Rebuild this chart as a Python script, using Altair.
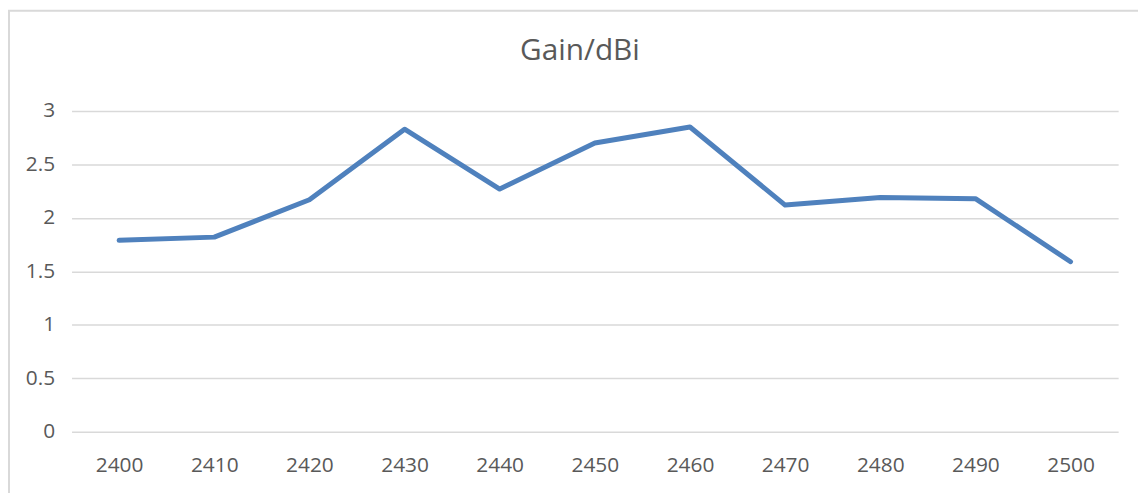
import altair as alt
import pandas as pd

freqs = ["2400", "2410", "2420", "2430", "2440", "2450", "2460", "2470", "2480", "2490", "2500"]
gain = [1.79, 1.82, 2.17, 2.83, 2.27, 2.70, 2.85, 2.12, 2.19, 2.18, 1.59]
y_ticks = [0, 0.5, 1, 1.5, 2, 2.5, 3]

df = pd.DataFrame({"freq": freqs, "gain": gain})

FONT = "Open Sans"
TXT = "#595959"
GRID = "#d9d9d9"

W, H = 1054, 323

frame = alt.Chart(pd.DataFrame({"a": [0]})).mark_rect(
    fill=None, stroke=GRID, strokeWidth=2
).encode(
    x=alt.value(-63), y=alt.value(-101),
    x2=alt.value(W + 120), y2=alt.value(H + 120),
)

line = alt.Chart(df).mark_line(
    color="#4f81bd", strokeWidth=5, strokeCap="round", strokeJoin="round"
).encode(
    x=alt.X("freq:O", sort=freqs,
            scale=alt.Scale(type="point", padding=0.5),
            axis=alt.Axis(title=None, labelAngle=0, ticks=False, domain=False,
                          grid=False, labelPadding=23, labelFontSize=21,
                          labelFont=FONT, labelColor=TXT)),
    y=alt.Y("gain:Q",
            scale=alt.Scale(domain=[0, 3], nice=False, zero=True),
            axis=alt.Axis(title=None, values=y_ticks, format=".1~f", ticks=False,
                          domain=False, grid=True, gridColor=GRID, gridWidth=1.5,
                          labelPadding=17, labelFontSize=21, labelFont=FONT,
                          labelColor=TXT)),
)

chart = alt.layer(frame, line).properties(
    width=W, height=H,
    background="white",
    title=alt.TitleParams("Gain/dBi", font=FONT, fontSize=30, color=TXT,
                          fontWeight="normal", anchor="middle", frame="group",
                          baseline="alphabetic", offset=-81, dx=-15),
    autosize=alt.AutoSizeParams(type="none"),
    padding={"left": 64, "top": 102, "right": 20, "bottom": 60},
).configure_view(strokeWidth=0, stroke="transparent")

chart.save("out.html", embed_options={"renderer": "svg", "actions": False})
